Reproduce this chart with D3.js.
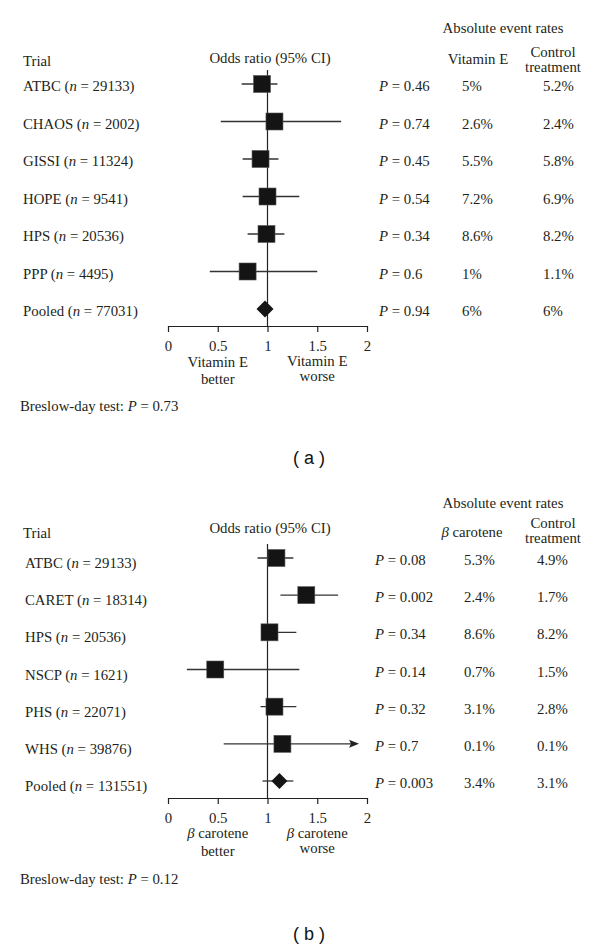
<!DOCTYPE html>
<html><head><meta charset="utf-8">
<script src="https://cdn.jsdelivr.net/npm/d3@7"></script>
<style>
body{margin:0;background:#fff}
svg text{font-family:"Liberation Serif","Times New Roman",serif;font-size:14.8px;fill:#231f20}
</style>
</head><body><svg id="c" width="600" height="949"></svg>
<script>
// ---------- Panel (a): Vitamin E ----------
const trialsA = ["ATBC","CHAOS","GISSI","HOPE","HPS","PPP","Pooled"];
const nA      = ["29133","2002","11324","9541","20536","4495","77031"];
const orA     = [0.945,1.07,0.93,1.00,0.99,0.80,0.975];
const loA     = [0.74,0.53,0.75,0.75,0.80,0.42,null];
const hiA     = [1.10,1.74,1.11,1.32,1.17,1.50,null];
const pA      = ["0.46","0.74","0.45","0.54","0.34","0.6","0.94"];
const treatA  = ["5%","2.6%","5.5%","7.2%","8.6%","1%","6%"];
const ctrlA   = ["5.2%","2.4%","5.8%","6.9%","8.2%","1.1%","6%"];
const arrowA  = [false,false,false,false,false,false,false];

// ---------- Panel (b): beta carotene ----------
const trialsB = ["ATBC","CARET","HPS","NSCP","PHS","WHS","Pooled"];
const nB      = ["29133","18314","20536","1621","22071","39876","131551"];
const orB     = [1.09,1.39,1.02,0.475,1.07,1.15,1.12];
const loB     = [0.90,1.13,0.95,0.19,0.93,0.56,0.95];
const hiB     = [1.26,1.71,1.29,1.32,1.29,1.92,1.26];
const pB      = ["0.08","0.002","0.34","0.14","0.32","0.7","0.003"];
const treatB  = ["5.3%","2.4%","8.6%","0.7%","3.1%","0.1%","3.4%"];
const ctrlB   = ["4.9%","1.7%","8.2%","1.5%","2.8%","0.1%","3.1%"];
const arrowB  = [false,false,false,false,false,true,false];

const tickValues = [0,0.5,1,1.5,2];
const tickLabels = ["0","0.5","1","1.5","2"];

const svg = d3.select("#c");
const x = d3.scaleLinear().domain([0,2]).range([168,367]);

function drawPanel(o){
  const g = svg.append("g");
  const y = d3.scalePoint().domain(o.trials).range(o.rowRange);
  const rows = o.trials.map((t,i)=>({t,i,n:o.n[i],or:o.or[i],lo:o.lo[i],hi:o.hi[i],p:o.p[i],tr:o.treat[i],ct:o.ctrl[i],arrow:o.arrow[i],pooled:t==="Pooled"}));

  // headers
  g.append("text").attr("x",503).attr("y",o.hAbs).attr("text-anchor","middle").text("Absolute event rates");
  g.append("text").attr("x",23).attr("y",o.hTrial).text("Trial");
  g.append("text").attr("x",270).attr("y",o.hOdds).attr("text-anchor","middle").text("Odds ratio (95% CI)");
  const th = g.append("text").attr("x",o.treatHeadX).attr("y",o.hTreat).attr("text-anchor","middle");
  if(o.greek){ th.append("tspan").attr("font-style","italic").text("β"); th.append("tspan").text(" carotene"); }
  else th.text(o.treatName);
  g.append("text").attr("x",553).attr("y",o.hCtrl).attr("text-anchor","middle").text("Control");
  g.append("text").attr("x",553).attr("y",o.hCtrl+15).attr("text-anchor","middle").text("treatment");

  // axis
  const ax = g.append("g").attr("transform",`translate(0,${o.axisY})`)
    .call(d3.axisBottom(x).tickValues(tickValues).tickFormat((d,i)=>tickLabels[i]).tickSize(6).tickSizeOuter(0).tickPadding(8));
  ax.attr("font-family",null).attr("font-size",null);
  ax.selectAll("path,line").attr("stroke","#222").attr("stroke-width",1.2);

  // reference line at OR = 1
  g.append("line").attr("x1",x(1)).attr("x2",x(1)).attr("y1",o.refTop).attr("y2",o.axisY)
    .attr("stroke","#222").attr("stroke-width",1.2);

  // CI lines
  g.selectAll(".ci").data(rows.filter(r=>r.lo!=null)).join("line")
    .attr("x1",r=>x(r.lo)).attr("x2",r=>x(r.hi)-(r.arrow?8:0))
    .attr("y1",r=>y(r.t)).attr("y2",r=>y(r.t))
    .attr("stroke","#333").attr("stroke-width",1.3);
  // arrows
  g.selectAll(".arr").data(rows.filter(r=>r.arrow)).join("path")
    .attr("d",r=>{const tx=x(r.hi), ty=y(r.t); return `M${tx},${ty} L${tx-10},${ty-4} L${tx-8},${ty} L${tx-10},${ty+4} Z`;})
    .attr("fill","#222");
  // squares
  const s = 17;
  g.selectAll(".sq").data(rows.filter(r=>!r.pooled)).join("rect")
    .attr("x",r=>x(r.or)-s/2).attr("y",r=>y(r.t)-s/2).attr("width",s).attr("height",s)
    .attr("fill","#141414").attr("stroke","#555").attr("stroke-width",0.6);
  // diamond
  g.selectAll(".dm").data(rows.filter(r=>r.pooled)).join("path")
    .attr("d",r=>{const cx=x(r.or), cy=y(r.t), h=o.dh; return `M${cx},${cy-h} L${cx+h},${cy} L${cx},${cy+h} L${cx-h},${cy} Z`;})
    .attr("fill","#141414");

  // row labels
  const lab = g.selectAll(".lab").data(rows).join("text")
    .attr("x",o.labelX).attr("y",r=>y(r.t)+o.labelDy);
  lab.append("tspan").text(r=>r.t+" (");
  lab.append("tspan").attr("font-style","italic").text("n");
  lab.append("tspan").text(r=>" = "+r.n+")");

  const pt = g.selectAll(".pv").data(rows).join("text")
    .attr("x",o.pX).attr("y",r=>y(r.t)+o.pDy);
  pt.append("tspan").attr("font-style","italic").text("P");
  pt.append("tspan").text(r=>" = "+r.p);

  g.selectAll(".tr").data(rows).join("text").attr("x",o.treatX).attr("y",r=>y(r.t)+o.pDy).text(r=>r.tr);
  g.selectAll(".ct").data(rows).join("text").attr("x",o.ctrlX).attr("y",r=>y(r.t)+o.pDy).text(r=>r.ct);

  // favour labels
  const fl = (cx, yy, txt, greek)=>{
    const t = g.append("text").attr("x",cx).attr("y",yy).attr("text-anchor","middle");
    if(greek){ t.append("tspan").attr("font-style","italic").text("β"); t.append("tspan").text(" carotene"); }
    else t.text(txt);
  };
  fl(x(0.5), o.fL1, o.treatName, o.greek); fl(x(0.5), o.fL2, "better", false);
  fl(x(1.5), o.fR1, o.treatName, o.greek); fl(x(1.5), o.fR2, "worse", false);

  // Breslow-day
  const bt = g.append("text").attr("x",20).attr("y",o.breslowY);
  bt.append("tspan").text("Breslow-day test: ");
  bt.append("tspan").attr("font-style","italic").text("P");
  bt.append("tspan").text(" = "+o.breslowP);

  // panel tag
  g.append("text").attr("x",309).attr("y",o.tagY).attr("text-anchor","middle")
    .style("font-family","'Liberation Sans',Arial,sans-serif").style("font-size","18px").style("fill","#111")
    .text(o.tag);
}

drawPanel({trials:trialsA,n:nA,or:orA,lo:loA,hi:hiA,p:pA,treat:treatA,ctrl:ctrlA,arrow:arrowA,
  rowRange:[84,309], axisY:326, refTop:70, dh:8.5,
  hAbs:33,hTrial:66,hOdds:63,hTreat:64,hCtrl:57, treatHeadX:478, treatName:"Vitamin E", greek:false,
  labelX:23,labelDy:7,pX:379,pDy:7,treatX:462,ctrlX:543,
  fL1:367,fL2:384,fR1:366,fR2:381, breslowY:411, breslowP:"0.73", tagY:464, tag:"( a )"});

drawPanel({trials:trialsB,n:nB,or:orB,lo:loB,hi:hiB,p:pB,treat:treatB,ctrl:ctrlB,arrow:arrowB,
  rowRange:[558,781], axisY:798, refTop:544, dh:8,
  hAbs:508,hTrial:538,hOdds:533,hTreat:537,hCtrl:528, treatHeadX:472, treatName:"β carotene", greek:true,
  labelX:25,labelDy:10,pX:375,pDy:7,treatX:464,ctrlX:537,
  fL1:838,fL2:856,fR1:838,fR2:853, breslowY:884, breslowP:"0.12", tagY:940, tag:"( b )"});
</script>
</body></html>
